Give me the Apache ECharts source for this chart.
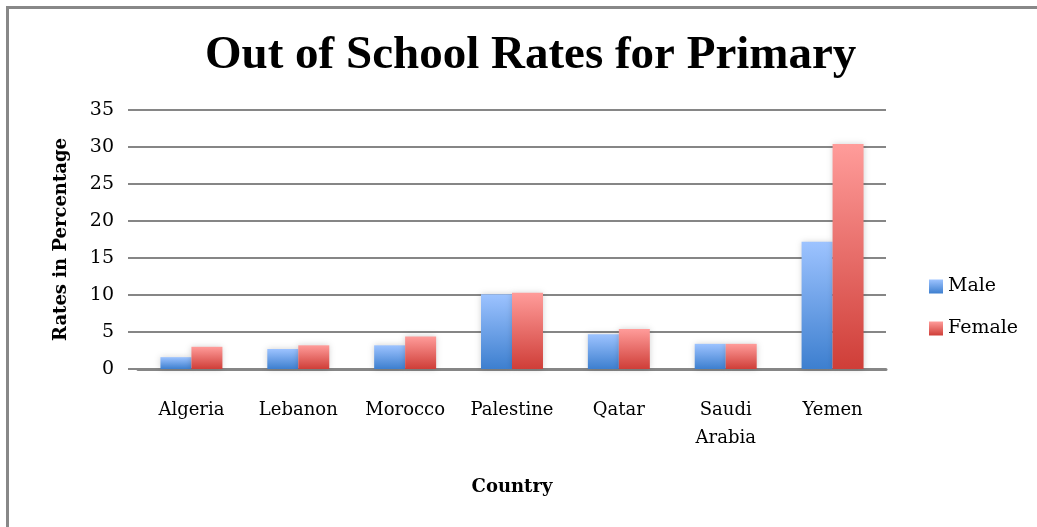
<!DOCTYPE html>
<html>
<head>
<meta charset="utf-8">
<script src="https://cdn.jsdelivr.net/npm/echarts@6/dist/echarts.min.js"></script>
<style>
  html, body { margin: 0; padding: 0; background: #fff; }
  #chart { width: 1037px; height: 527px; }
</style>
</head>
<body>
<div id="chart"></div>
<script>
// data
const countries = ["Algeria", "Lebanon", "Morocco", "Palestine", "Qatar", "Saudi\nArabia", "Yemen"];
const male = [1.6, 2.7, 3.2, 10.1, 4.7, 3.4, 17.2];
const female = [3.0, 3.2, 4.4, 10.3, 5.4, 3.4, 30.4];
const yTicks = { min: 0, max: 35, interval: 5 };

const serif = "DejaVu Serif";

function grad(top, bottom) {
  return {
    type: "linear", x: 0, y: 0, x2: 0, y2: 1,
    colorStops: [{ offset: 0, color: top }, { offset: 1, color: bottom }]
  };
}

const chart = echarts.init(document.getElementById("chart"));
chart.setOption({
  animation: false,
  backgroundColor: "#fff",
  title: {
    text: "Out of School Rates for Primary",
    left: 205,
    top: 32,
    padding: 0,
    textStyle: { fontFamily: "Liberation Serif", fontWeight: "bold", fontSize: 47, color: "#000" }
  },
  legend: {
    orient: "vertical",
    left: 924,
    top: 272,
    itemWidth: 14,
    itemHeight: 14,
    itemGap: 23,
    icon: "rect",
    textStyle: { fontFamily: serif, fontSize: 19, color: "#000" },
    data: ["Male", "Female"]
  },
  grid: { left: 138, right: 151, top: 110, bottom: 158 },
  xAxis: {
    type: "category",
    data: countries,
    name: "Country",
    nameLocation: "middle",
    nameGap: 109,
    nameTextStyle: { fontFamily: serif, fontWeight: "bold", fontSize: 18, color: "#000" },
    axisLine: { lineStyle: { color: "#868686", width: 3 } },
    axisTick: { show: false },
    axisLabel: { interval: 0, fontFamily: serif, fontSize: 18, color: "#000", margin: 27, lineHeight: 28 }
  },
  yAxis: {
    type: "value",
    min: yTicks.min,
    max: yTicks.max,
    interval: yTicks.interval,
    name: "Rates in Percentage",
    nameLocation: "middle",
    nameGap: 68,
    nameTextStyle: { fontFamily: serif, fontWeight: "bold", fontSize: 18, color: "#000" },
    axisLine: { show: false },
    axisTick: { show: true, length: 10, lineStyle: { color: "#868686", width: 2 } },
    axisLabel: { fontFamily: serif, fontSize: 19, color: "#000", margin: 24 },
    splitLine: { lineStyle: { color: "#868686", width: 2 } }
  },
  series: [
    {
      name: "Male",
      type: "bar",
      data: male,
      barGap: "0%",
      barCategoryGap: "42%",
      itemStyle: {
        color: grad("#9dc3ff", "#3d7fcf"),
        shadowBlur: 6,
        shadowColor: "rgba(0,0,0,0.18)"
      }
    },
    {
      name: "Female",
      type: "bar",
      data: female,
      itemStyle: {
        color: grad("#ff9c9a", "#cf3e38"),
        shadowBlur: 6,
        shadowColor: "rgba(0,0,0,0.18)"
      }
    }
  ],
  graphic: [
    { type: "rect", left: 6, top: 6, shape: { width: 1031, height: 3 }, style: { fill: "#888" }, silent: true },
    { type: "rect", left: 6, top: 6, shape: { width: 3, height: 521 }, style: { fill: "#888" }, silent: true }
  ]
});
</script>
</body>
</html>
